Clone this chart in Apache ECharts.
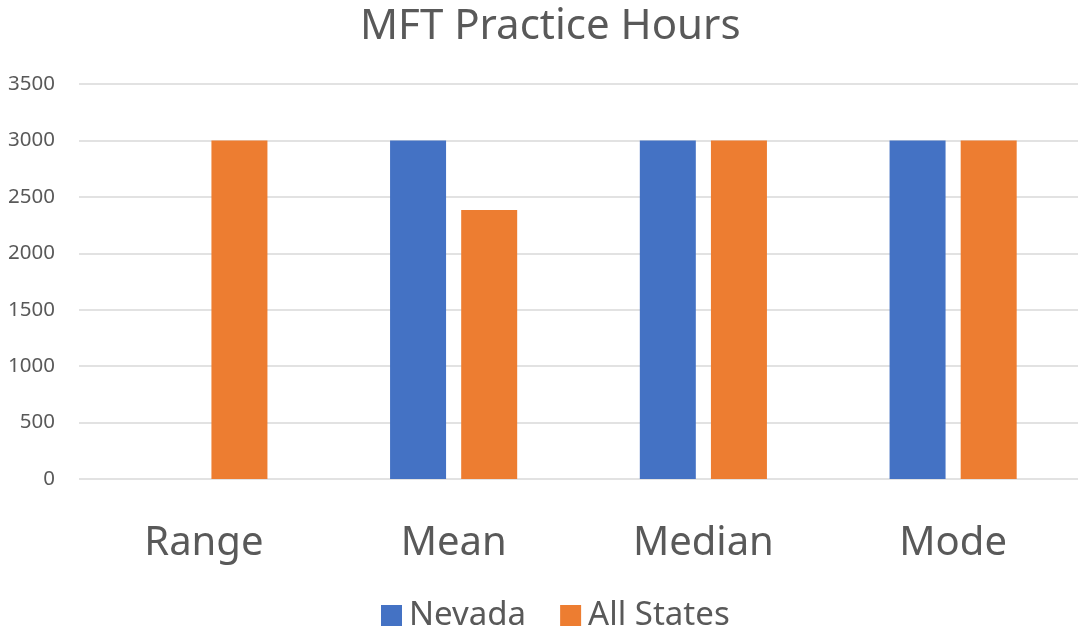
<!DOCTYPE html>
<html><head><meta charset="utf-8">
<script src="https://cdn.jsdelivr.net/npm/echarts@6/dist/echarts.min.js"></script>
<style>html,body{margin:0;padding:0;background:#fff}#c{width:1079px;height:634px}</style>
</head><body><div id="c"></div>
<script>
const categories = ['Range', 'Mean', 'Median', 'Mode'];
const nevada = [0, 3000, 3000, 3000];
const allStates = [3000, 2383, 3000, 3000];
const yTicks = [0, 500, 1000, 1500, 2000, 2500, 3000, 3500];

const font = 'Noto Sans';
const chart = echarts.init(document.getElementById('c'));
chart.setOption({
  animation: false,
  title: {
    text: 'MFT Practice Hours', left: 355, top: 1,
    textStyle: { fontFamily: font, fontSize: 42, fontWeight: 'normal', color: '#595959' }
  },
  legend: {
    bottom: -3, left: 376, itemWidth: 21, itemHeight: 21, itemGap: 34, icon: 'rect',
    textStyle: { fontFamily: font, fontSize: 33, color: '#595959', padding: [0, 0, 0, 2] },
    data: ['Nevada', 'All States']
  },
  grid: { left: 79, right: 1, top: 84, bottom: 155, containLabel: false },
  xAxis: {
    type: 'category', data: categories,
    axisLine: { show: false }, axisTick: { show: false },
    axisLabel: { fontFamily: font, fontSize: 40, color: '#595959', margin: 45 }
  },
  yAxis: {
    type: 'value', min: yTicks[0], max: yTicks[yTicks.length - 1], interval: 500,
    axisLine: { show: false }, axisTick: { show: false },
    splitLine: { lineStyle: { color: '#d9d9d9', width: 1.5 } },
    axisLabel: { fontFamily: font, fontSize: 20.5, color: '#595959', margin: 24, formatter: v => String(v) }
  },
  series: [
    { name: 'Nevada', type: 'bar', data: nevada, barWidth: 56, barGap: '27%', itemStyle: { color: '#4472c4' } },
    { name: 'All States', type: 'bar', data: allStates, barWidth: 56, itemStyle: { color: '#ed7d31' } }
  ]
});
</script></body></html>
